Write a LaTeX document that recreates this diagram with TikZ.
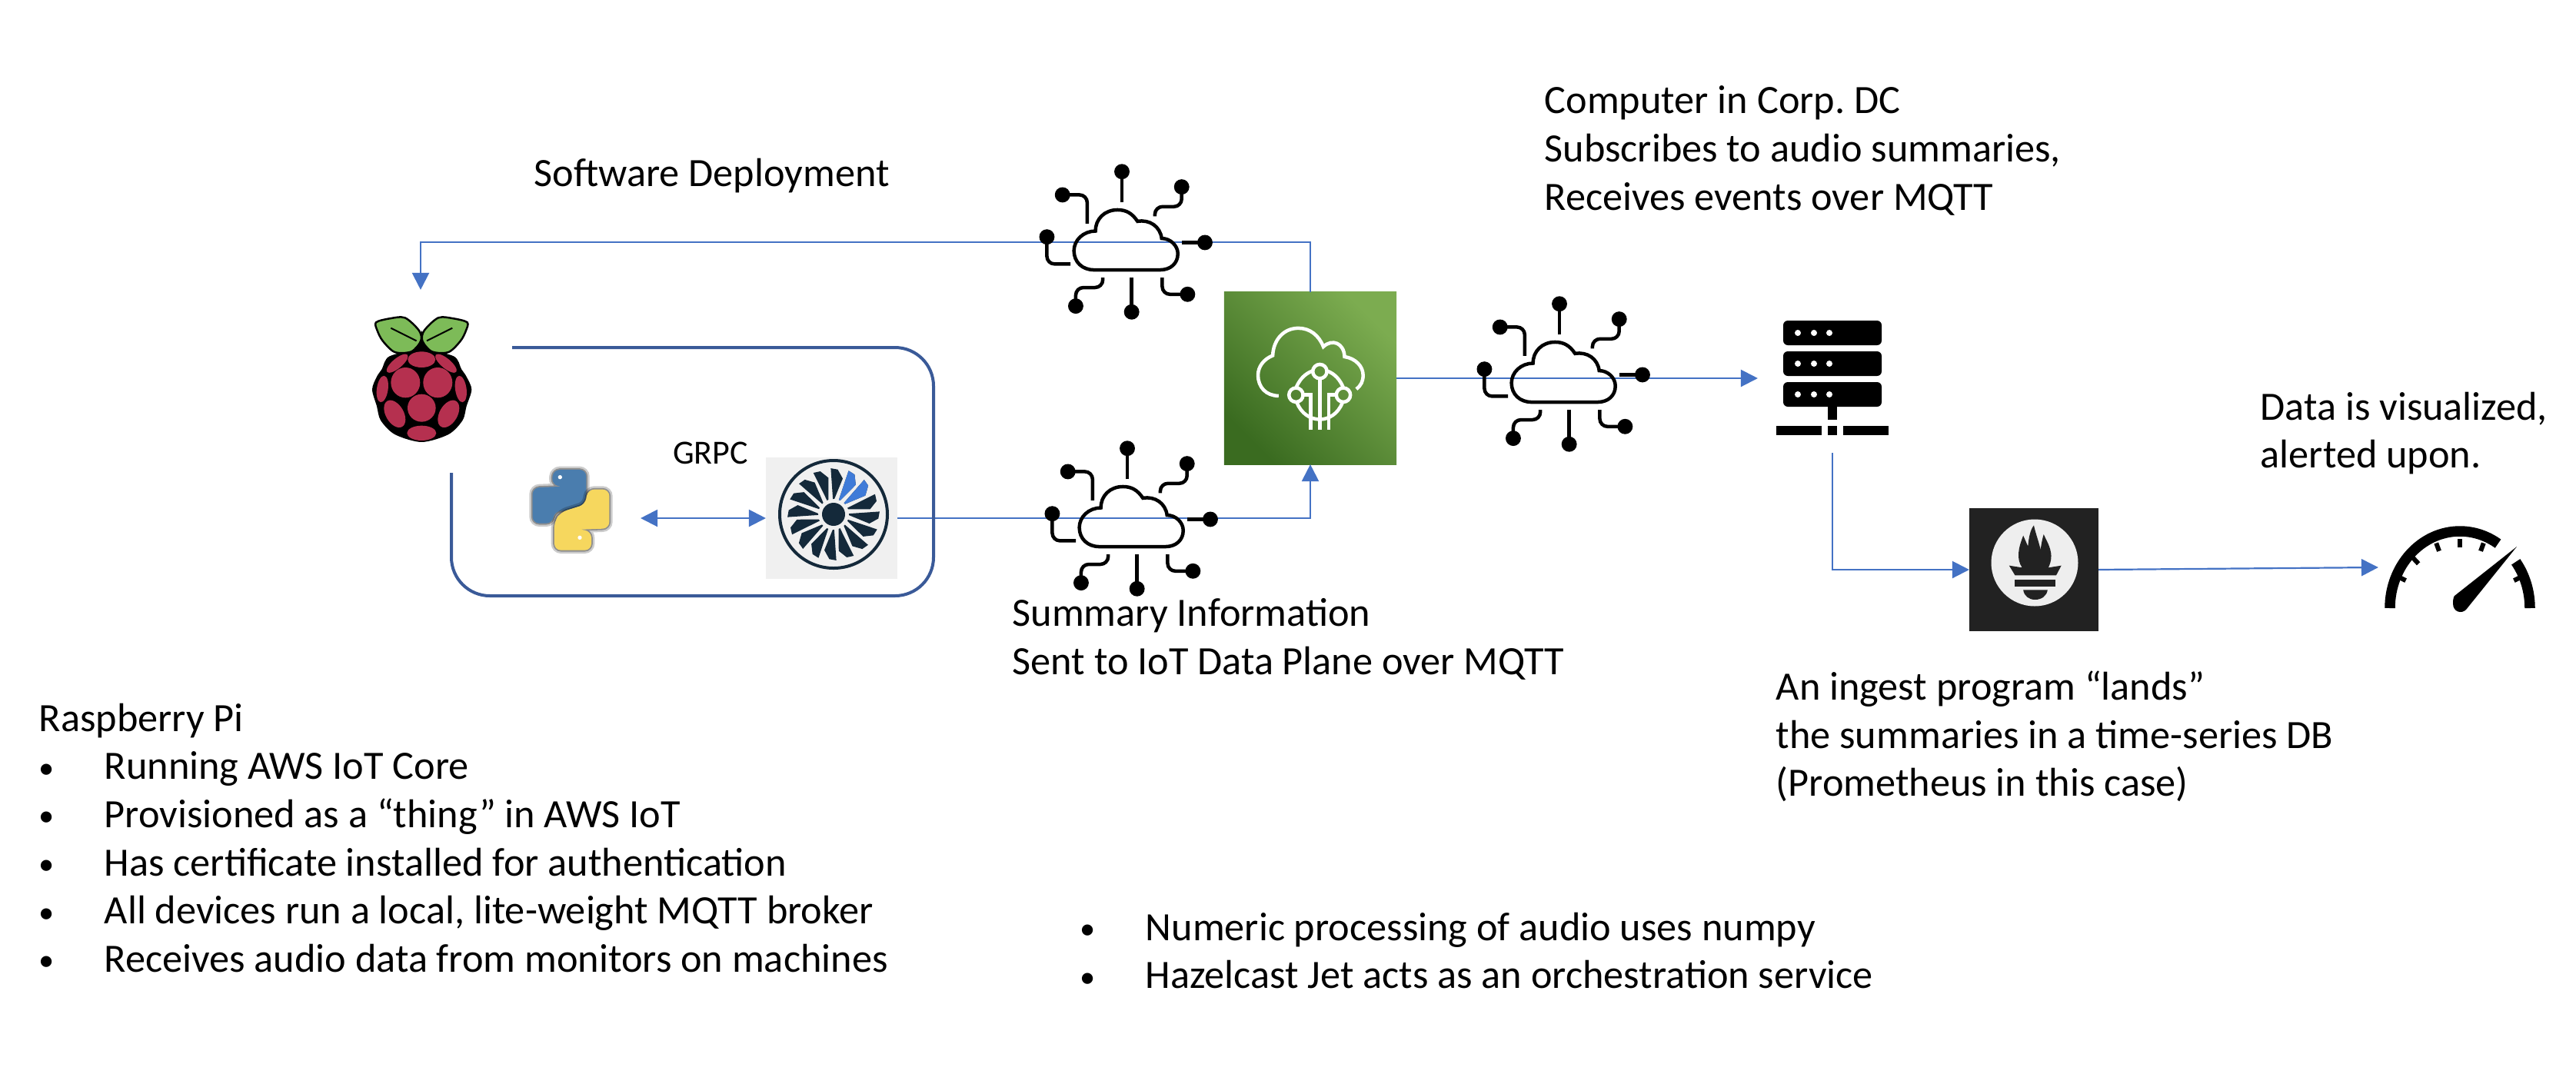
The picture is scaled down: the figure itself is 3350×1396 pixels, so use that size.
\documentclass[tikz,border=0pt]{standalone}
\usepackage{fontspec}
\setmainfont{Carlito}
\usetikzlibrary{arrows.meta,positioning}

\definecolor{flowblue}{HTML}{4472C4}
\definecolor{loopblue}{HTML}{3A5A98}
\definecolor{berryred}{HTML}{B5304F}
\definecolor{leafgreen}{HTML}{7DBB58}
\definecolor{awsdark}{HTML}{3A6B20}
\definecolor{awslight}{HTML}{7CAC50}
\definecolor{turbinedark}{HTML}{14293A}
\definecolor{turbineblue}{HTML}{3F7BD8}
\definecolor{promdark}{HTML}{222222}
\definecolor{promlight}{HTML}{EEEEEE}
\definecolor{pyblue}{HTML}{4A7DAE}
\definecolor{pyyellow}{HTML}{F6D75E}
\definecolor{tilegray}{HTML}{F0F0F0}

\newcommand{\bul}{\makebox[.85cm][l]{{\fontsize{11.5}{11.5}\selectfont\raisebox{.4pt}{•}}}}

\tikzset{
  iotcloud/.pic={
    \begin{scope}[shift={(-428,-345)},line width=.45mm]
      \draw (320,447) -- (545,447) .. controls (580,447) and (605,425) .. (605,392)
        .. controls (605,365) and (580,340) .. (550,340) .. controls (545,300) and (510,275) .. (468,282)
        .. controls (450,255) and (430,243) .. (400,243) .. controls (355,243) and (325,275) .. (325,315)
        .. controls (285,315) and (252,345) .. (252,382) .. controls (252,420) and (280,447) .. (320,447) -- cycle;
      \draw (415,218) -- (415,113);
      \draw (448,473) -- (448,590);
      \draw (620,354) -- (697,354);
      \draw[rounded corners=1mm] (297,290) -- (297,192) -- (213,192);
      \draw[rounded corners=1mm] (527,265) -- (527,232) -- (618,232) -- (618,165);
      \draw[rounded corners=1mm] (240,427) -- (160,427) -- (160,335);
      \draw[rounded corners=1mm] (350,473) -- (350,507) -- (258,507) -- (258,570);
      \draw[rounded corners=1mm] (552,473) -- (552,530) -- (638,530);
      \foreach \p in {(415,113),(448,590),(697,354),(213,192),(618,165),(160,335),(258,570),(638,530)}
        \fill \p circle[radius=26];
    \end{scope}
  },
  turbineblade/.pic={
    \fill (20,0) -- (60,-1) -- (58,8) -- (46,14) -- (20,2) -- cycle;
  }
}

\begin{document}
\begin{tikzpicture}[
  x=.01cm,y=-.01cm,
  flow/.style={draw=flowblue,line width=.22mm},
  tipped/.style={flow,-{Triangle[length=2.2mm,width=2.2mm]}},
  twotipped/.style={flow,{Triangle[length=2.2mm,width=2.2mm]}-{Triangle[length=2.2mm,width=2.2mm]}},
  holder/.style={inner sep=0,outer sep=0,minimum width=#1},
  softedge/.style={rounded corners=.8mm,preaction={draw,draw opacity=.2,line width=1mm},preaction={draw,draw opacity=.3,line width=.5mm}},
  lbl/.style={anchor=north west,align=left,inner sep=0,font=\fontsize{14.87}{17.82}\selectfont\frenchspacing}
]
  \useasboundingbox (0,0) rectangle (3350,1396);

  % nodes holding the icons
  \node[holder=1.34cm,minimum height=2.34cm] (rasp) at (547,494) {};
  \node[holder=1.76cm,minimum height=1cm] (python) at (745,663) {};
  \node[holder=1.71cm,minimum height=1.58cm,fill=tilegray] (turbine) at (1081.5,674) {};
  \node[holder=2.24cm,minimum height=2.24cm,left color=awsdark,right color=awslight,shading angle=135] (iotcore) at (1704,492) {};
  \node[holder=1.94cm,minimum height=1.94cm] (server) at (2383,492) {};
  \node[holder=1.68cm,minimum height=1.6cm,fill=promdark] (prom) at (2645,741) {};
  \node[holder=2.12cm,minimum height=1.08cm] (gauge) at (3199,738) {};
  \coordinate (loopstart) at (666,452);
  \coordinate (loopend) at (587,615);

  % connectors
  \draw[tipped] (iotcore.north) -- ++(0,-65) -| (rasp.north);
  \draw[twotipped] (python.east |- turbine.west) -- (turbine.west);
  \draw[tipped] (turbine.east) -| (iotcore.south);
  \draw[tipped] (iotcore.east) -- (server.west);
  \draw[tipped] (server.south) |- (prom.west);
  \draw[tipped] (prom.east) -- (gauge.west);
  \draw[draw=loopblue,line width=.4mm,rounded corners=5mm]
    (loopstart) -- (1214,452) -- (1214,775) -- (587,775) -- (loopend);

  \pic[scale=.3827] at (1464,312) {iotcloud};
  \pic[scale=.3827] at (1471,672) {iotcloud};
  \pic[scale=.3827] at (2033,484) {iotcloud};

  % raspberry
  \begin{scope}[shift={(470,400)},scale=.3333]
    \fill plot[smooth cycle] coordinates {(235,165) (110,190) (80,240) (60,270) (42,320) (60,385) (75,440) (130,495) (235,525) (340,495) (395,440) (410,385) (430,320) (410,270) (390,240) (360,190)};
    \fill (235,90) -- (215,140) -- (180,175) -- (290,175) -- (255,140) -- cycle;
    \foreach \m in {1,-1} {
      \begin{scope}[shift={(235,0)},xscale=\m]
        \draw[fill=leafgreen,line width=.25mm] plot[smooth cycle] coordinates {(-178,58) (-125,43) (-65,40) (-10,90) (-3,130) (-40,172) (-105,174) (-152,130) (-173,90)};
        \draw[line width=.2mm] (-120,80) -- (-20,130);
        \fill[berryred,rotate around={40:(-95,218)}] (-95,218) ellipse[x radius=52,y radius=19];
        \fill[berryred] (-63,293) ellipse[x radius=57,y radius=59];
        \fill[berryred,rotate around={-8:(-153,318)}] (-153,318) ellipse[x radius=22,y radius=52];
        \fill[berryred,rotate around={30:(-105,415)}] (-105,415) ellipse[x radius=35,y radius=58];
      \end{scope}
    }
    \fill[berryred] (235,203) ellipse[x radius=54,y radius=31];
    \fill[berryred] (235,392) ellipse[x radius=55,y radius=54];
    \fill[berryred] (235,490) ellipse[x radius=57,y radius=29];
  \end{scope}

  % python
  \begin{scope}[shift={(680,600)},scale=.3333]
    \draw[draw=pyblue,fill=pyblue,softedge]
      (120,35) -- (245,35) -- (245,150) -- (215,185) -- (120,195) -- (115,240) -- (40,240) -- (40,105) -- (170,100) -- (115,90) -- cycle;
    \draw[draw=pyyellow,fill=pyyellow,softedge]
      (255,112) -- (335,112) -- (335,260) -- (205,265) -- (265,275) -- (265,345) -- (125,345) -- (125,235) -- (150,200) -- (245,170) -- cycle;
    \fill[white] (145,62) circle[radius=8];
    \fill[white] (222,298) circle[radius=8];
  \end{scope}

  % turbine
  \begin{scope}[shift={(1084,669)},turbinedark]
    \draw[line width=.4mm] (0,0) circle[radius=70];
    \fill (0,0) circle[radius=15];
    \foreach \a in {2.5,25,...,340}
      \pic[rotate=\a] at (0,0) {turbineblade};
    \foreach \a in {47.5,70}
      \pic[rotate=\a,turbineblue] at (0,0) {turbineblade};
  \end{scope}

  % aws iot icon
  \begin{scope}[shift={(1300,180)},scale=.3827,white,line width=.45mm]
    \draw (948,875) .. controls (905,875) and (878,845) .. (878,805) .. controls (878,775) and (898,750) .. (928,738)
      .. controls (930,685) and (965,645) .. (1015,645) .. controls (1055,645) and (1085,670) .. (1100,708)
      .. controls (1130,680) and (1170,695) .. (1172,742) .. controls (1210,748) and (1235,775) .. (1235,805)
      .. controls (1235,825) and (1228,840) .. (1212,852);
    \draw (1088,792) circle[radius=24];
    \draw (1007,872) circle[radius=24];
    \draw (1168,872) circle[radius=24];
    \draw (1064,790) .. controls (1035,800) and (1018,822) .. (1007,848);
    \draw (1112,790) .. controls (1140,800) and (1158,822) .. (1168,848);
    \draw (1010,898) .. controls (1025,935) and (1055,955) .. (1088,955) .. controls (1120,955) and (1150,935) .. (1165,898);
    \draw (1088,816) -- (1088,990);
    \draw (1057,990) -- (1057,872) -- (1031,872);
    \draw (1118,990) -- (1118,872) -- (1144,872);
  \end{scope}

  % server
  \foreach \y in {417,457,497} {
    \fill[rounded corners=.6mm] (2319,\y) rectangle (2447,\y+32);
    \foreach \x in {2338,2359,2379}
      \fill[white] (\x,\y+16) circle[radius=4];
  }
  \fill (2377,529) rectangle (2389,546);
  \fill (2310,554) rectangle (2369,566);
  \fill (2377,554) rectangle (2389,566);
  \fill (2397,554) rectangle (2456,566);

  % prometheus
  \fill[promlight] (2646,732) circle[radius=56.5];
  \begin{scope}[shift={(2520,640)},xscale=.51,yscale=.3333,promdark]
    \fill (182,287) -- (215,295) .. controls (200,260) and (205,220) .. (218,170) -- (230,212)
      .. controls (232,180) and (235,150) .. (245,130) .. controls (250,165) and (258,195) .. (262,225)
      .. controls (264,205) and (266,185) .. (270,165) .. controls (280,200) and (300,240) .. (282,295)
      -- (315,287) -- (302,325) -- (197,325) -- cycle;
    \fill (197,342) rectangle (300,370);
    \fill (218,382) -- (280,382) .. controls (278,405) and (265,420) .. (248,420) .. controls (232,420) and (220,405) .. (218,382) -- cycle;
  \end{scope}

  % gauge
  \begin{scope}[shift={(3199,791)},yscale=-1]
    \draw[line width=1.35mm] (-91,0) arc[start angle=180,end angle=57,x radius=91,y radius=100];
    \draw[line width=1.35mm] (91,0) arc[start angle=0,end angle=37,x radius=91,y radius=100];
    \foreach \a in {27,70,90,110,133,153}
      \draw[line width=.6mm] (\a:90) -- (\a:79);
    \fill (74,80) -- (8,-2) .. controls (2,-8) and (-9,-5) .. (-9,6) .. controls (-9,12) and (-8,15) .. (-7,16) -- cycle;
  \end{scope}

  % labels
  \node[lbl] (deploylabel) at (694,205) {Software Deployment};
  \node[lbl] (corplabel) at (2008,111) {Computer in Corp. DC\\Subscribes to audio summaries,\\Receives events over MQTT};
  \node[lbl] (summarylabel) at (1316,778) {Summary Information\\Sent to IoT Data Plane over MQTT};
  \node[lbl] (ingestlabel) at (2309,872) {An ingest program “lands”\\the summaries in a time-series DB\\(Prometheus in this case)};
  \node[lbl] (vizlabel) at (2939,509) {Data is visualized,\\alerted upon.};
  \node[lbl,font=\fontsize{12.5}{15}\selectfont,anchor=center] (grpclabel) at (924,589) {GRPC};
  \node[lbl] (pilabel) at (50,914) {Raspberry Pi\\
    \bul Running AWS IoT Core\\
    \bul Provisioned as a “thing” in AWS IoT\\
    \bul Has certificate installed for authentication\\
    \bul All devices run a local, lite-weight MQTT broker\\
    \bul Receives audio data from monitors on machines};
  \node[lbl] (noteslabel) at (1404,1186) {\bul Numeric processing of audio uses numpy\\
    \bul Hazelcast Jet acts as an orchestration service};
\end{tikzpicture}
\end{document}
